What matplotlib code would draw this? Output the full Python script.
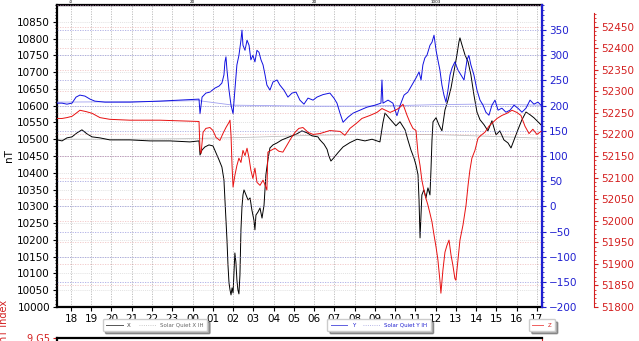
import matplotlib
matplotlib.use("Agg")
import matplotlib.pyplot as plt
from matplotlib.ticker import MultipleLocator, FixedLocator
from matplotlib.lines import Line2D

# ---- data: (hours since 18:00 of day 1, value) ----
x_series = [(-0.69, 10498), (-0.44, 10495), (-0.20, 10504), (0.05, 10507), (0.30, 10519), (0.54, 10528),
            (0.79, 10516), (1.04, 10507), (1.43, 10504), (1.92, 10498), (2.91, 10498), (3.90, 10495),
            (4.89, 10495), (5.87, 10492), (6.32, 10495), (6.37, 10453), (6.47, 10468), (6.61, 10477),
            (6.81, 10483), (7.01, 10480), (7.16, 10459), (7.31, 10438), (7.45, 10417), (7.55, 10379),
            (7.60, 10319), (7.65, 10259), (7.70, 10200), (7.75, 10125), (7.80, 10072), (7.85, 10051),
            (7.90, 10036), (7.95, 10057), (8.00, 10042), (8.05, 10110), (8.09, 10161), (8.14, 10134),
            (8.19, 10081), (8.24, 10051), (8.29, 10039), (8.34, 10095), (8.39, 10230), (8.44, 10298),
            (8.49, 10334), (8.54, 10349), (8.64, 10334), (8.74, 10319), (8.84, 10325), (8.93, 10289),
            (9.03, 10259), (9.08, 10230), (9.13, 10274), (9.23, 10283), (9.33, 10295), (9.43, 10265),
            (9.53, 10304), (9.62, 10394), (9.72, 10438), (9.82, 10474), (9.97, 10483), (10.17, 10489),
            (10.41, 10498), (10.66, 10504), (10.91, 10510), (11.15, 10516), (11.40, 10525), (11.65, 10519),
            (11.90, 10510), (12.19, 10507), (12.29, 10498), (12.49, 10485), (12.64, 10470), (12.73, 10450),
            (12.83, 10435), (12.98, 10445), (13.18, 10460), (13.43, 10477), (13.77, 10490), (14.12, 10500),
            (14.51, 10495), (14.86, 10500), (15.25, 10492), (15.40, 10550), (15.50, 10578), (15.75, 10560),
            (16.04, 10540), (16.24, 10552), (16.49, 10528), (16.63, 10498), (16.78, 10468), (16.93, 10444),
            (17.03, 10423), (17.13, 10394), (17.18, 10319), (17.23, 10206), (17.28, 10274), (17.32, 10334),
            (17.42, 10349), (17.52, 10325), (17.62, 10355), (17.72, 10334), (17.77, 10409), (17.82, 10498),
            (17.87, 10552), (18.02, 10564), (18.16, 10543), (18.31, 10525), (18.46, 10587), (18.61, 10617),
            (18.76, 10653), (18.90, 10701), (19.05, 10751), (19.15, 10790), (19.20, 10802), (19.30, 10781),
            (19.45, 10751), (19.60, 10731), (19.74, 10692), (19.89, 10632), (20.04, 10581), (20.19, 10558),
            (20.39, 10543), (20.58, 10525), (20.78, 10555), (20.98, 10513), (21.17, 10525), (21.37, 10498),
            (21.57, 10489), (21.72, 10474), (21.87, 10498), (22.06, 10528), (22.26, 10558), (22.46, 10581),
            (22.66, 10573), (22.85, 10564), (23.05, 10552), (23.20, 10543)]

sqx_series = [(-0.69, 10500), (3.0, 10500), (6.0, 10502), (9.0, 10506), (12.0, 10512), (15.0, 10515),
              (18.0, 10514), (21.0, 10508), (23.25, 10503)]

y_series = [(-0.69, 205), (-0.44, 205), (-0.20, 203), (0.05, 205), (0.25, 217), (0.44, 221), (0.69, 219),
            (0.94, 213), (1.18, 209), (1.68, 207), (2.91, 207), (4.39, 209), (6.32, 213), (6.37, 184),
            (6.47, 217), (6.66, 225), (6.86, 227), (7.11, 235), (7.31, 239), (7.45, 245), (7.55, 261),
            (7.60, 287), (7.65, 297), (7.70, 271), (7.80, 231), (7.90, 201), (8.00, 184), (8.09, 231),
            (8.19, 281), (8.29, 300), (8.39, 330), (8.44, 350), (8.49, 320), (8.59, 310), (8.69, 330),
            (8.79, 320), (8.88, 291), (8.98, 300), (9.08, 287), (9.18, 310), (9.28, 306), (9.38, 291),
            (9.48, 281), (9.58, 261), (9.67, 241), (9.82, 231), (9.97, 247), (10.17, 251), (10.31, 241),
            (10.51, 231), (10.71, 217), (10.91, 225), (11.11, 227), (11.30, 211), (11.50, 203), (11.70, 215),
            (11.95, 211), (12.14, 217), (12.44, 222), (12.78, 225), (12.98, 215), (13.13, 205), (13.28, 185),
            (13.43, 167), (13.67, 177), (13.92, 185), (14.26, 191), (14.61, 197), (15.01, 201), (15.30, 205),
            (15.35, 251), (15.40, 205), (15.65, 211), (15.89, 205), (16.09, 180), (16.24, 200), (16.44, 221),
            (16.63, 227), (16.83, 241), (17.03, 255), (17.18, 267), (17.28, 251), (17.37, 281), (17.47, 295),
            (17.57, 300), (17.72, 320), (17.82, 326), (17.92, 340), (18.02, 310), (18.11, 291), (18.21, 271),
            (18.31, 241), (18.41, 221), (18.51, 207), (18.61, 231), (18.71, 261), (18.81, 275), (18.95, 287),
            (19.10, 271), (19.25, 261), (19.40, 251), (19.55, 291), (19.64, 300), (19.74, 281), (19.89, 261),
            (20.04, 231), (20.19, 211), (20.34, 201), (20.48, 187), (20.63, 181), (20.78, 201), (20.93, 211),
            (21.08, 191), (21.27, 195), (21.47, 187), (21.67, 191), (21.87, 201), (22.06, 195), (22.26, 187),
            (22.46, 195), (22.66, 211), (22.85, 203), (23.05, 207), (23.20, 201)]

sqy_series = [(-0.69, 207), (3.0, 208), (6.3, 210), (8.0, 201), (10.0, 200), (12.0, 199), (14.0, 199),
              (16.0, 200), (18.0, 202), (20.0, 203), (22.0, 202), (23.25, 201)]

z_series = [(-0.69, 52237), (-0.44, 52237), (-0.20, 52239), (0.05, 52242), (0.25, 52249), (0.44, 52256),
            (0.74, 52253), (1.04, 52249), (1.43, 52239), (1.92, 52235), (2.91, 52233), (4.39, 52233),
            (6.32, 52230), (6.37, 52163), (6.42, 52156), (6.52, 52205), (6.66, 52214), (6.86, 52216),
            (7.01, 52209), (7.16, 52193), (7.35, 52186), (7.50, 52202), (7.65, 52216), (7.80, 52228),
            (7.85, 52233), (7.90, 52198), (7.95, 52128), (8.00, 52078), (8.09, 52105), (8.19, 52128),
            (8.29, 52145), (8.39, 52135), (8.49, 52163), (8.59, 52151), (8.69, 52168), (8.79, 52145),
            (8.88, 52117), (8.98, 52098), (9.08, 52122), (9.18, 52089), (9.33, 52082), (9.48, 52094),
            (9.62, 52078), (9.67, 52071), (9.72, 52159), (9.87, 52163), (10.07, 52168), (10.26, 52161),
            (10.46, 52159), (10.66, 52175), (10.86, 52191), (11.06, 52205), (11.25, 52214), (11.45, 52216),
            (11.70, 52205), (11.95, 52200), (12.29, 52202), (12.78, 52209), (13.28, 52207), (13.52, 52198),
            (13.77, 52214), (14.07, 52225), (14.36, 52237), (14.76, 52244), (15.10, 52251), (15.35, 52260),
            (15.75, 52251), (16.09, 52258), (16.24, 52263), (16.39, 52270), (16.59, 52244), (16.73, 52228),
            (16.88, 52214), (17.03, 52209), (17.13, 52156), (17.23, 52128), (17.32, 52094), (17.42, 52071),
            (17.52, 52052), (17.62, 52036), (17.72, 52017), (17.82, 51997), (17.92, 51967), (18.02, 51939),
            (18.11, 51910), (18.21, 51862), (18.26, 51832), (18.36, 51886), (18.46, 51927), (18.56, 51943),
            (18.66, 51955), (18.76, 51920), (18.85, 51897), (18.95, 51866), (19.00, 51862), (19.10, 51908),
            (19.20, 51955), (19.35, 51990), (19.50, 52036), (19.60, 52082), (19.69, 52117), (19.79, 52145),
            (19.94, 52163), (20.09, 52191), (20.24, 52198), (20.43, 52205), (20.63, 52219), (20.83, 52228),
            (21.03, 52237), (21.27, 52244), (21.52, 52249), (21.77, 52256), (22.01, 52251), (22.21, 52244),
            (22.41, 52219), (22.61, 52202), (22.80, 52212), (23.00, 52200), (23.20, 52207)]

hour_ticks = list(range(0, 24))
hour_labels = ["%02d" % ((18 + h) % 24) for h in hour_ticks]
top_ticks = [0, 6, 12, 18]
top_labels = ["-0", "20", "20", "1003"]


def unzip(series):
    return [p[0] for p in series], [p[1] for p in series]


BLUE = "#1f1fd0"
RED = "#d42020"

fig = plt.figure(figsize=(6.39, 3.41), dpi=100)
W, H = 639.0, 341.0
ax = fig.add_axes([57 / W, 1 - 307 / H, 485 / W, 302 / H])
ax.set_xlim(-0.69, 23.25)
ax.set_ylim(10000, 10900)

ax2 = ax.twinx()
ax2.set_ylim(-200, 400)
ax3 = ax.twinx()
ax3.set_ylim(51800, 52500)
ax3.spines["right"].set_position(("outward", 37.4))

# grids
for h in hour_ticks:
    ax.axvline(h, color="#b8b8b8", lw=0.6, ls=(0, (1.5, 1.5)), zorder=0)
for v in range(10000, 10901, 50):
    ax.axhline(v, color="#d8d8d8", lw=0.5, ls=(0, (1.5, 1.5)), zorder=0)
for v in range(-200, 401, 50):
    ax2.axhline(v, color="#7070d0", lw=0.6, ls=(0, (1.5, 1.5)), alpha=0.6, zorder=0)
for v in range(51800, 52501, 50):
    ax3.axhline(v, color="#e08080", lw=0.6, ls=(0, (1.5, 1.5)), alpha=0.45, zorder=0)

# data
ax.plot(*unzip(sqx_series), color="#c0c0c0", lw=0.6, zorder=2)
ax.plot(*unzip(x_series), color="black", lw=0.7, zorder=3)
ax2.plot(*unzip(sqy_series), color="#a0a0f0", lw=0.6, zorder=2)
ax2.plot(*unzip(y_series), color="#1010e0", lw=0.7, zorder=3)
ax3.plot(*unzip(z_series), color="#e81010", lw=0.7, zorder=3)

# x axis
ax.set_xticks(hour_ticks)
ax.set_xticklabels(hour_labels)
ax.tick_params(axis="x", labelsize=7.5, length=3, pad=2)
ax.tick_params(axis="y", labelsize=7.5, length=3, pad=2)
ax.set_yticks(list(range(10000, 10851, 50)))
ax.yaxis.set_minor_locator(MultipleLocator(10))
ax.tick_params(axis="y", which="minor", length=1.5)
ax.set_ylim(10000, 10900)
ax.set_ylabel("nT", fontsize=7.5)
ax.yaxis.set_label_coords(-0.089, 0.5)

ax2.set_yticks(list(range(-200, 351, 50)))
ax2.yaxis.set_minor_locator(MultipleLocator(10))
ax2.tick_params(axis="y", colors=BLUE, labelsize=7.5, length=3, pad=2)
ax2.tick_params(axis="y", which="minor", colors=BLUE, length=1.5)
ax2.spines["right"].set_color(BLUE)
ax2.spines["right"].set_linewidth(1.6)
ax2.set_ylim(-200, 400)

ax3.set_yticks(list(range(51800, 52451, 50)))
ax3.yaxis.set_minor_locator(FixedLocator(list(range(51800, 52481, 10))))
ax3.tick_params(axis="y", colors=RED, labelsize=7.5, length=3, pad=2)
ax3.tick_params(axis="y", which="minor", colors=RED, length=1.5)
ax3.spines["right"].set_color(RED)
ax3.spines["right"].set_bounds(51800, 52482)
ax3.set_ylim(51800, 52500)

for s in ["left", "top", "bottom"]:
    ax.spines[s].set_linewidth(1.6)
for a in (ax2, ax3):
    for s in ["left", "top", "bottom"]:
        a.spines[s].set_visible(False)

# top secondary axis with tiny labels
sec = ax.secondary_xaxis("top")
sec.set_xticks(top_ticks)
sec.set_xticklabels(top_labels)
sec.tick_params(axis="x", labelsize=3, length=0, pad=0.5)

# legends
fs = 4
l1 = ax.legend(handles=[Line2D([], [], color="#555555", lw=0.7),
                        Line2D([], [], color="#bbbbbb", lw=0.6, ls=":")],
               labels=["X", "Solar Quiet X IH"], ncol=2, fontsize=fs,
               loc="center", bbox_to_anchor=(0.202, -0.06), shadow=True,
               handlelength=3, columnspacing=1.5, borderpad=0.6, labelcolor=["#444444", "#666666"])
ax.add_artist(l1)
l2 = ax.legend(handles=[Line2D([], [], color="#6060e0", lw=0.7),
                        Line2D([], [], color="#a0a0e0", lw=0.6, ls=":")],
               labels=["Y", "Solar Quiet Y IH"], ncol=2, fontsize=fs,
               loc="center", bbox_to_anchor=(0.664, -0.06), shadow=True,
               handlelength=3, columnspacing=1.5, borderpad=0.6, labelcolor=[BLUE, BLUE])
ax.add_artist(l2)
l3 = ax.legend(handles=[Line2D([], [], color="#f06060", lw=0.7)],
               labels=["Z"], fontsize=fs, loc="center", bbox_to_anchor=(1.0, -0.06),
               shadow=True, handlelength=2, borderpad=0.6, labelcolor=[RED])

# lower (mostly cut-off) index panel
axb = fig.add_axes([57 / W, -0.3, 485 / W, 0.3 + 3 / H])
axb.set_xlim(-0.69, 23.25)
axb.set_ylim(0, 9)
axb.set_yticks([9])
axb.set_yticklabels(["9 G5"])
axb.tick_params(axis="y", colors=RED, labelsize=7, length=3, pad=2)
axb.set_xticks([])
axb.spines["top"].set_linewidth(1.6)
axb.spines["left"].set_linewidth(1.6)
axb.spines["right"].set_color(RED)
axb.spines["bottom"].set_visible(False)
fig.text(-0.002, 1 - 300 / H, "nT Index", rotation=90, va="top", ha="left", color=RED, fontsize=7)

fig.savefig("out.png", dpi=100)
